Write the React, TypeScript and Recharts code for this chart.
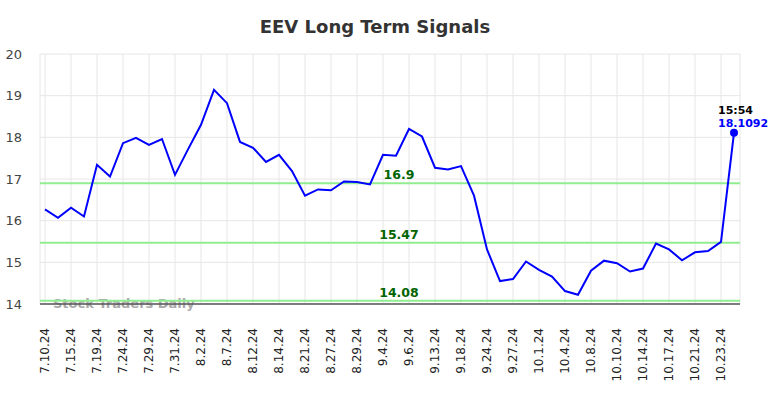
import React from 'react';
import { LineChart, Line, XAxis, YAxis, CartesianGrid, ReferenceLine } from 'recharts';

const dates = [
  '7.10.24', '7.12.24', '7.15.24', '7.17.24', '7.19.24', '7.22.24', '7.24.24', '7.26.24',
  '7.29.24', '7.30.24', '7.31.24', '8.1.24', '8.2.24', '8.5.24', '8.7.24', '8.9.24',
  '8.12.24', '8.13.24', '8.14.24', '8.19.24', '8.21.24', '8.23.24', '8.27.24', '8.28.24',
  '8.29.24', '8.30.24', '9.4.24', '9.5.24', '9.6.24', '9.11.24', '9.13.24', '9.16.24',
  '9.18.24', '9.20.24', '9.24.24', '9.26.24', '9.27.24', '9.30.24', '10.1.24', '10.3.24',
  '10.4.24', '10.7.24', '10.8.24', '10.9.24', '10.10.24', '10.11.24', '10.14.24', '10.16.24',
  '10.17.24', '10.18.24', '10.21.24', '10.22.24', '10.23.24', '10.24.24',
];

const prices = [
  16.27, 16.07, 16.31, 16.1, 17.34, 17.06, 17.86, 17.99, 17.82, 17.96,
  17.1, 17.71, 18.3, 19.14, 18.82, 17.89, 17.75, 17.41, 17.58, 17.19,
  16.6, 16.75, 16.73, 16.94, 16.93, 16.87, 17.58, 17.56, 18.2, 18.02,
  17.27, 17.23, 17.31, 16.6, 15.31, 14.55, 14.6, 15.02, 14.82, 14.66,
  14.31, 14.22, 14.8, 15.04, 14.98, 14.78, 14.85, 15.45, 15.31, 15.05,
  15.24, 15.27, 15.49, 18.1092,
];

const signals = [16.9, 15.47, 14.08];
const yTicks = [14, 15, 16, 17, 18, 19, 20];
const lastTime = '15:54';

const data = dates.map((d, i) => ({ date: d, price: prices[i] }));

const FONT = '"DejaVu Sans", sans-serif';

const LastDot = (props: any) => {
  const { cx, cy, index } = props;
  if (index !== data.length - 1) return null;
  return (
    <g>
      <circle cx={cx} cy={cy} r={4} fill="#0000ff" />
      <text x={cx - 16} y={cy - 19} fontSize={11} fontWeight="bold" fill="#000" fontFamily={FONT}>
        {lastTime}
      </text>
      <text x={cx - 16} y={cy - 6} fontSize={11} fontWeight="bold" fill="#0000ff" fontFamily={FONT}>
        {prices[prices.length - 1]}
      </text>
    </g>
  );
};

const SignalLabel = (props: any) => {
  const { viewBox, value } = props;
  return (
    <text
      x={viewBox.x + 359}
      y={viewBox.y - 4}
      textAnchor="middle"
      fontSize={12.5}
      fontWeight="bold"
      fill="#006400"
      fontFamily={FONT}
    >
      {value}
    </text>
  );
};

const XTick = (props: any) => {
  const { x, y, payload } = props;
  return (
    <text
      x={x}
      y={y}
      transform={`rotate(-90, ${x}, ${y})`}
      textAnchor="end"
      dy={4}
      fontSize={12}
      fill="#222"
      fontFamily={FONT}
    >
      {payload.value}
    </text>
  );
};

export default function App() {
  return (
    <div style={{ position: 'absolute', left: 0, top: 0, width: 784, height: 398, background: '#fff' }}>
      <LineChart
        width={784}
        height={398}
        data={data}
        margin={{ top: 54, right: 44, bottom: 0, left: 0 }}
      >
        <text x={375} y={33} textAnchor="middle" fontSize={18} fontWeight="bold" fill="#333" fontFamily={FONT}>
          EEV Long Term Signals
        </text>
        <text x={53} y={308} fontSize={13} fontWeight="bold" fill="#aaa" fontFamily={FONT}>
          Stock Traders Daily
        </text>
        <CartesianGrid stroke="#e6e6e6" strokeWidth={1} />
        <XAxis
          dataKey="date"
          interval={1}
          padding={{ left: 5, right: 6 }}
          tick={<XTick />}
          tickLine={false}
          tickMargin={18}
          axisLine={{ stroke: '#555', strokeWidth: 1.5 }}
          height={94}
        />
        <YAxis
          width={40}
          domain={[14, 20]}
          ticks={yTicks}
          axisLine={false}
          tickLine={false}
          tickMargin={12}
          tick={{ fontSize: 13, fill: '#444', fontFamily: FONT }}
        />
        {signals.map((s) => (
          <ReferenceLine
            key={s}
            y={s}
            stroke="#90ee90"
            strokeWidth={2}
            label={<SignalLabel value={s} />}
          />
        ))}
        <Line
          type="linear"
          dataKey="price"
          stroke="#0000ff"
          strokeWidth={2}
          dot={<LastDot />}
          activeDot={false}
          isAnimationActive={false}
        />
      </LineChart>
    </div>
  );
}
